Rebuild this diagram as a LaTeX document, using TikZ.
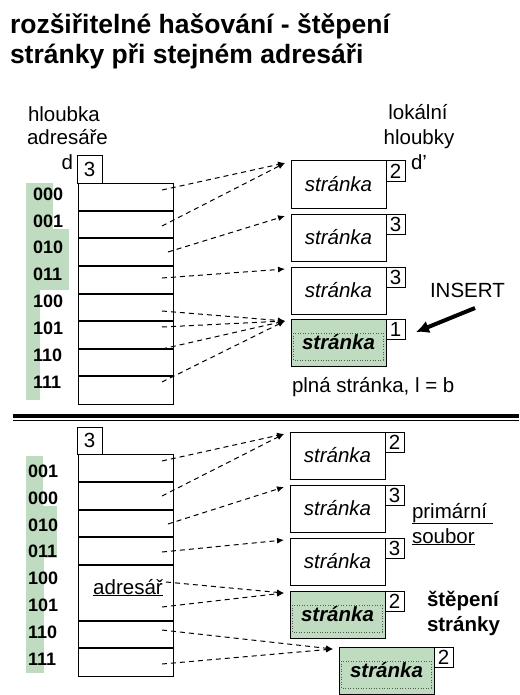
\documentclass[tikz,border=0pt]{standalone}
\usepackage{fontspec}
\setmainfont{Liberation Sans}
\usetikzlibrary{arrows.meta,calc}
\definecolor{mgreen}{RGB}{192,220,192}
\begin{document}
\begin{tikzpicture}[x=1pt,y=-1pt,
  every node/.style={inner sep=0pt, outer sep=0pt},
  txt/.style={font=\fontsize{20.5}{24}\selectfont},
  ttl/.style={font=\fontsize{26.5}{30}\bfseries\selectfont, anchor=base west},
  bits/.style={font=\fontsize{18}{20}\bfseries\selectfont, anchor=west},
  boldtxt/.style={font=\fontsize{20.5}{24}\bfseries\selectfont, anchor=base west},
  pagebox/.style={draw, line width=1pt, minimum width=95pt, minimum height=47pt, anchor=north west, font=\fontsize{20.5}{24}\itshape\selectfont},
  fullpage/.style={pagebox, fill=mgreen, font=\fontsize{20.5}{24}\bfseries\itshape\selectfont},
  depthbox/.style={draw, line width=1pt, minimum width=19pt, minimum height=20pt, anchor=north west, font=\fontsize{20.5}{24}\selectfont},
  dirdepth/.style={draw, line width=1pt, minimum width=25pt, minimum height=27pt, anchor=north west, font=\fontsize{20.5}{24}\selectfont},
  dirbox/.style={draw, line width=1pt, minimum width=95pt, anchor=north west},
  rowcell/.style={minimum width=95pt, anchor=north west},
  rowsep/.style={line width=2pt},
  ptr/.style={line width=1pt, dash pattern=on 5pt off 4pt, -{Latex[length=7pt,width=6pt]}},
  innerframe/.style={dotted, line width=0.6pt, black!65}
]
\useasboundingbox (0,0) rectangle (519,695);

% title
\node[ttl] (t1) at (10,34) {rozšiřitelné hašování - štěpení};
\node[ttl] (t2) at (10,64) {stránky při stejném adresáři};

% ---------------- top part ----------------
\fill[mgreen] (26,183) rectangle (53,229);
\fill[mgreen] (26,229) rectangle (69,290);
\fill[mgreen] (26,290) rectangle (40,400);

\node[txt, anchor=base west] (hl) at (28,122) {hloubka};
\node[txt, anchor=base west] (ad) at (27,145) {adresáře};
\node[txt, anchor=base east] (dl) at (73,170) {d};
\node[dirdepth] (gd) at (77,156) {3};

\node[dirbox, minimum height=221pt] (dir) at (78,183) {};
\foreach \i in {0,...,7} {
  \node[rowcell, minimum height=27.625pt] (r\i) at (78,{183+27.625*\i}) {};
}
\foreach \i in {1,...,7} {
  \draw[rowsep] (r\i.north west) -- (r\i.north east);
}
\foreach \b [count=\i from 0] in {000,001,010,011,100,101,110,111} {
  \node[bits] (b\i) at (33,{194+26.9*\i}) {\b};
}

\node[txt, anchor=base] (lok) at (418,120) {lokální};
\node[txt, anchor=base] (hlb) at (419,145) {hloubky};
\node[txt, anchor=base west] (dd) at (411,169) {d’};

\node[pagebox] (p1) at (291,161) {stránka};
\node[pagebox] (p2) at (291,214) {stránka};
\node[pagebox] (p3) at (291,267) {stránka};
\node[fullpage] (p4) at (291,319) {stránka};
\draw[innerframe] ($(p4.north west)+(2,14)$) rectangle ($(p4.south east)+(-3,-6)$);
\node[depthbox] (d1) at (p1.north east) {2};
\node[depthbox] (d2) at (p2.north east) {3};
\node[depthbox] (d3) at (p3.north east) {3};
\node[depthbox] (d4) at (p4.north east) {1};

\node[txt, anchor=base west] (ins) at (430,297) {INSERT};
\coordinate (insTail) at (475,308);
\coordinate (insTip) at (416,332);
\draw[line width=4pt, -{Latex[length=13pt,width=13pt]}] (insTail) -- (insTip);

\node[txt, anchor=base west] (full) at (292,392) {plná stránka, l = b};

\coordinate (s0) at (162,190);
\coordinate (s1) at (162,226);
\coordinate (s2) at (168,252);
\coordinate (s3) at (162,278);
\coordinate (s4) at (162,311);
\coordinate (s5) at (162,327);
\coordinate (s6) at (162,349);
\coordinate (s7) at (162,382);
\draw[ptr] (s0) -- ($(p1.north west)+(-6,2)$);
\draw[ptr] (s1) -- ($(p1.north west)+(-6,2)$);
\draw[ptr] (s2) -- ($(p2.north west)+(-6,2)$);
\draw[ptr] (s3) -- ($(p3.north west)+(-6,2)$);
\foreach \k in {4,5,6,7} {
  \draw[ptr] (s\k) -- ($(p4.north west)+(-6,2)$);
}

% separator
\coordinate (sepL) at (13,416);
\coordinate (sepR) at (519,416);
\draw[line width=4pt] (sepL) -- (sepR);
\draw[line width=1.2pt] ($(sepL)+(0,4.3)$) -- ($(sepR)+(0,4.3)$);

% ---------------- bottom part ----------------
\fill[mgreen] (26,456) rectangle (43,506);
\fill[mgreen] (26,506) rectangle (57,558);
\fill[mgreen] (26,558) rectangle (44,673);

\node[dirdepth] (hd) at (77,427) {3};
\node[dirbox, minimum height=222pt] (dirb) at (78,454) {};
\foreach \i in {0,...,7} {
  \node[rowcell, minimum height=27.75pt] (q\i) at (78,{454+27.75*\i}) {};
}
\foreach \i in {1,2,3,4,6,7} {
  \draw[rowsep] (q\i.north west) -- (q\i.north east);
}
\node[txt, anchor=base] (adr) at (128,594) {\underline{adresář}};
\foreach \b [count=\i from 0] in {001,000,010,011,100,101,110,111} {
  \node[bits] (c\i) at (28,{471+26.9*\i}) {\b};
}

\node[pagebox] (g1) at (290,432) {stránka};
\node[pagebox] (g2) at (290,485) {stránka};
\node[pagebox] (g3) at (290,538) {stránka};
\node[fullpage] (g4) at (290,591) {stránka};
\node[fullpage] (g5) at (339,647) {stránka};
\draw[innerframe] ($(g4.north west)+(2,14)$) rectangle ($(g4.south east)+(-3,-6)$);
\draw[innerframe] ($(g5.north west)+(2,14)$) rectangle ($(g5.south east)+(-3,-6)$);
\node[depthbox] (e1) at (g1.north east) {2};
\node[depthbox] (e2) at (g2.north east) {3};
\node[depthbox] (e3) at (g3.north east) {3};
\node[depthbox] (e4) at (g4.north east) {2};
\node[depthbox] (e5) at (g5.north east) {2};

\node[txt, anchor=base west] (prim) at (412,518) {\underline{primární\ }};
\node[txt, anchor=base west] (soub) at (412,543) {\underline{soubor}};
\node[boldtxt] (stp) at (427,606) {štěpení};
\node[boldtxt] (str) at (427,631) {stránky};

\coordinate (u0) at (162,461);
\coordinate (u1) at (162,496);
\coordinate (u2) at (168,524);
\coordinate (u3) at (162,552);
\coordinate (u4) at (166,582);
\coordinate (u5) at (162,607);
\coordinate (u6) at (162,630);
\coordinate (u7) at (162,664);
\draw[ptr] (u0) -- ($(g1.north west)+(-6,2)$);
\draw[ptr] (u1) -- ($(g1.north west)+(-6,2)$);
\draw[ptr] (u2) -- ($(g2.north west)+(-6,2)$);
\draw[ptr] (u3) -- ($(g3.north west)+(-6,2)$);
\draw[ptr] (u4) -- ($(g4.north west)+(-6,2)$);
\draw[ptr] (u5) -- ($(g4.north west)+(-6,2)$);
\draw[ptr] (u6) -- ($(g5.north west)+(-6,2)$);
\draw[ptr] (u7) -- ($(g5.north west)+(-6,2)$);
\end{tikzpicture}
\end{document}
